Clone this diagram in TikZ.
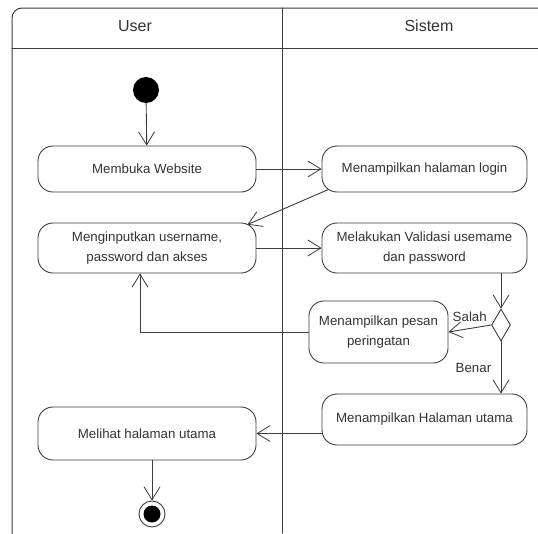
\documentclass[tikz,border=0pt]{standalone}
\usepackage{fontspec}
\setmainfont{Liberation Sans}
\usetikzlibrary{arrows.meta,shapes.geometric}
\definecolor{garis}{HTML}{3C3C3C}
\definecolor{tulisan}{HTML}{333333}
\tikzset{
  aksi/.style={draw=garis, line width=0.9pt, rounded corners=15pt, minimum width=205pt, minimum height=50pt, align=center, inner sep=2pt, text=tulisan, font=\fontsize{13.3}{20}\selectfont},
  alir/.style={draw=garis, line width=0.9pt, -{Straight Barb[length=13pt,width=16pt,line width=0.8pt]}},
  label/.style={text=tulisan, font=\fontsize{13.3}{16}\selectfont},
}
\begin{document}
\begin{tikzpicture}[x=1pt, y=-1pt, line join=round, line cap=round]
            \useasboundingbox (0,0) rectangle (538,533);
            % swimlane frame
            \begin{scope}
            \clip (0,0) rectangle (538,533);
            \draw[garis, line width=1pt, rounded corners=10pt] (12,540)--(12,8)--(560,8);
            \end{scope}
            \draw[garis, line width=1pt] (12,48)--(538,48);
            \draw[garis, line width=1pt] (282,8)--(282,533);
            \node[label, font=\fontsize{16}{18}\selectfont] (laneuser) at (135,26) {User};
            \node[label, font=\fontsize{16}{18}\selectfont] (lanesistem) at (429,26) {Sistem};
            % nodes
            \node[circle, fill=black, minimum size=26pt, inner sep=0pt] (mulai) at (146,90) {};
            \node[aksi, minimum width=218pt, minimum height=46pt] (buka) at (147,169) {Membuka Website};
            \node[aksi, minimum height=46pt] (login) at (424.5,169) {Menampilkan halaman login};
            \node[aksi, minimum width=218pt] (input) at (147,248) {Menginputkan username,\\ password dan akses};
            \node[aksi] (validasi) at (424.5,248) {Melakukan Validasi usemame\\ dan password};
            \node[diamond, draw=garis, line width=0.9pt, minimum width=19pt, minimum height=32pt, inner sep=0pt] (cek) at (501,325) {};
            \node[aksi, minimum width=139pt, minimum height=62pt] (pesan) at (378.5,332) {Menampilkan pesan\\ peringatan};
            \node[aksi, minimum height=51pt] (halutama) at (424.5,419.5) {Menampilkan Halaman utama};
            \node[aksi, minimum width=218pt, minimum height=53pt] (lihat) at (147,433.5) {Melihat halaman utama};
            \node[circle, draw=garis, line width=0.9pt, minimum size=26pt, inner sep=0pt] (selesai) at (152,514) {};
            \fill (selesai) circle (8.5pt);
            % flows
            \draw[alir] (mulai)--(buka);
            \draw[alir] (buka)--(login);
            \draw[alir] ([shift={(7pt,3pt)}]login.south west)--([shift={(-9pt,-2pt)}]input.north east);
            \draw[alir] (input)--(validasi);
            \draw[alir] (validasi.south -| cek.north)--(cek.north);
            \draw[alir] (cek.west)--(pesan.east) node[label, midway, above=3pt] {Salah};
            \draw[alir] (pesan.west)-|([xshift=-7pt]input.south);
            \draw[alir] (cek.south)--(halutama.north -| cek.south) node[label, midway, left=6pt] {Benar};
            \draw[alir] (halutama.west |- lihat.east)--(lihat.east);
            \draw[alir] (lihat.south -| selesai.north)--(selesai.north);
        \end{tikzpicture}
\end{document}
